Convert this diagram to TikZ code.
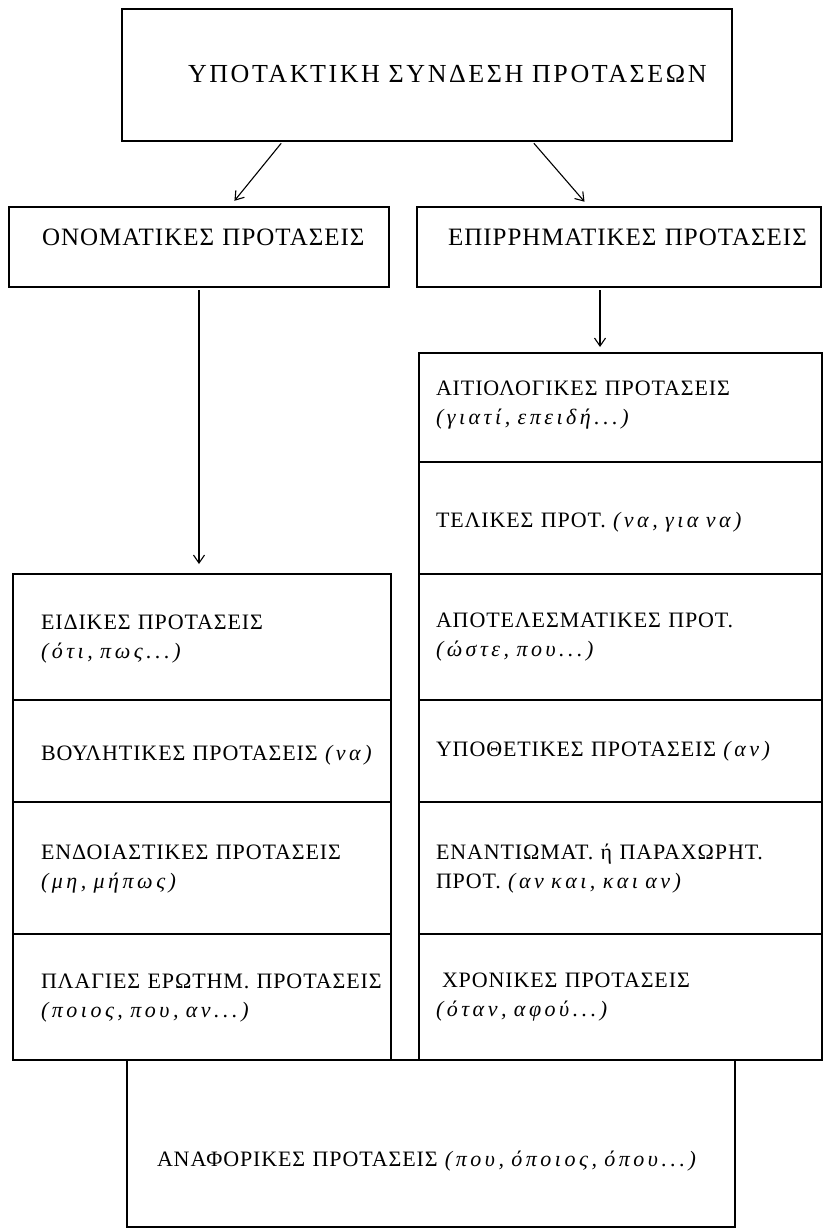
\documentclass[tikz,border=0pt]{standalone}
\usepackage{fontspec}
\setmainfont{Liberation Serif}
\newfontfamily\titlefont[LetterSpace=10]{Liberation Serif}
\newfontfamily\cellfont[LetterSpace=4]{Liberation Serif}
\newfontface\exfont[LetterSpace=16]{Liberation Serif Italic}
\newcommand\exwords[1]{{\exfont #1}}
\usetikzlibrary{arrows.meta,calc}

\begin{document}
\begin{tikzpicture}[x=1pt,y=-1pt,>={Straight Barb[length=8pt,width=11pt]},
  box/.style={draw, line width=1.8pt, outer sep=0pt, anchor=north west, align=left,
    inner ysep=0pt, text height=15pt, text depth=15pt},
  cell/.style={box, font=\cellfont\fontsize{22}{29}\selectfont},
  leftcell/.style={cell, inner xsep=28pt, text width=322pt},
  rightcell/.style={cell, inner xsep=17pt, text width=369pt},
  link/.style={->, line width=1.1pt, shorten <=3pt}]
\useasboundingbox (0,0) rectangle (824,1229);

% top
\node[box, font=\titlefont\fontsize{26}{30}\selectfont, minimum height=132pt,
  inner xsep=66pt, text width=478pt, text height=30pt] (title) at (122,9)
  {\mbox{ΥΠΟΤΑΚΤΙΚΗ ΣΥΝΔΕΣΗ ΠΡΟΤΑΣΕΩΝ}};

% second row
\node[box, font=\cellfont\fontsize{25}{30}\selectfont, minimum height=80pt, inner xsep=33pt,
  text width=314pt, text height=12pt] (onom) at (9,207)
  {\mbox{ΟΝΟΜΑΤΙΚΕΣ ΠΡΟΤΑΣΕΙΣ}};
\node[box, font=\cellfont\fontsize{25}{30}\selectfont, minimum height=80pt, inner xsep=31pt,
  text width=342pt, text height=12pt] (epir) at (417,207)
  {\mbox{ΕΠΙΡΡΗΜΑΤΙΚΕΣ ΠΡΟΤΑΣΕΙΣ}};

% right column
\node[rightcell, minimum height=109pt, text depth=40pt] (aitio) at (419,353)
  {ΑΙΤΙΟΛΟΓΙΚΕΣ ΠΡΟΤΑΣΕΙΣ\\\exwords{(γιατί, επειδή...)}};
\node[rightcell, minimum height=112pt, text height=34pt] (telik) at (419,462)
  {\mbox{ΤΕΛΙΚΕΣ ΠΡΟΤ. \exwords{(να, για να)}}};
\node[rightcell, minimum height=126pt, text depth=34pt] (apot) at (419,574)
  {ΑΠΟΤΕΛΕΣΜΑΤΙΚΕΣ ΠΡΟΤ.\\\exwords{(ώστε, που...)}};
\node[rightcell, minimum height=102pt, text height=25pt] (ypoth) at (419,700)
  {\mbox{ΥΠΟΘΕΤΙΚΕΣ ΠΡΟΤΑΣΕΙΣ \exwords{(αν)}}};
\node[rightcell, minimum height=132pt, text depth=33pt] (enant) at (419,802)
  {\mbox{ΕΝΑΝΤΙΩΜΑΤ. ή ΠΑΡΑΧΩΡΗΤ.}\\ΠΡΟΤ. \exwords{(αν και, και αν)}};
\node[rightcell, minimum height=126pt, text depth=34pt] (chron) at (419,934)
  {\hspace*{6pt}ΧΡΟΝΙΚΕΣ ΠΡΟΤΑΣΕΙΣ\\\exwords{(όταν, αφού...)}};

% left column
\node[leftcell, minimum height=126pt, text depth=31pt] (eid) at (13,574)
  {ΕΙΔΙΚΕΣ ΠΡΟΤΑΣΕΙΣ\\\exwords{(ότι, πως...)}};
\node[leftcell, minimum height=102pt, text height=33pt] (voul) at (13,700)
  {\mbox{ΒΟΥΛΗΤΙΚΕΣ ΠΡΟΤΑΣΕΙΣ \exwords{(να)}}};
\node[leftcell, minimum height=132pt, text depth=33pt] (endo) at (13,802)
  {\mbox{ΕΝΔΟΙΑΣΤΙΚΕΣ ΠΡΟΤΑΣΕΙΣ}\\\exwords{(μη, μήπως)}};
\node[leftcell, minimum height=126pt, text depth=32pt] (plag) at (13,934)
  {\mbox{ΠΛΑΓΙΕΣ ΕΡΩΤΗΜ. ΠΡΟΤΑΣΕΙΣ}\\\exwords{(ποιος, που, αν...)}};

% bottom
\node[cell, minimum height=167pt, inner xsep=30pt, text width=548pt, text height=60pt] (anaf) at (127,1060)
  {\mbox{ΑΝΑΦΟΡΙΚΕΣ ΠΡΟΤΑΣΕΙΣ \exwords{(που, όποιος, όπου...)}}};

% arrows
\draw[link, shorten >=8pt] ($(title.south west)!0.264!(title.south east)$) -- ($(onom.north west)!0.58!(onom.north east)$);
\draw[link, shorten >=7pt] ($(title.south west)!0.672!(title.south east)$) -- ($(epir.north west)!0.426!(epir.north east)$);
\draw[link, shorten >=10pt] (onom.south) -- (onom.south |- eid.north);
\draw[link, shorten >=6pt] ($(epir.south west)!0.453!(epir.south east)$) coordinate (e1) -- (e1 |- aitio.north);
\end{tikzpicture}
\end{document}
